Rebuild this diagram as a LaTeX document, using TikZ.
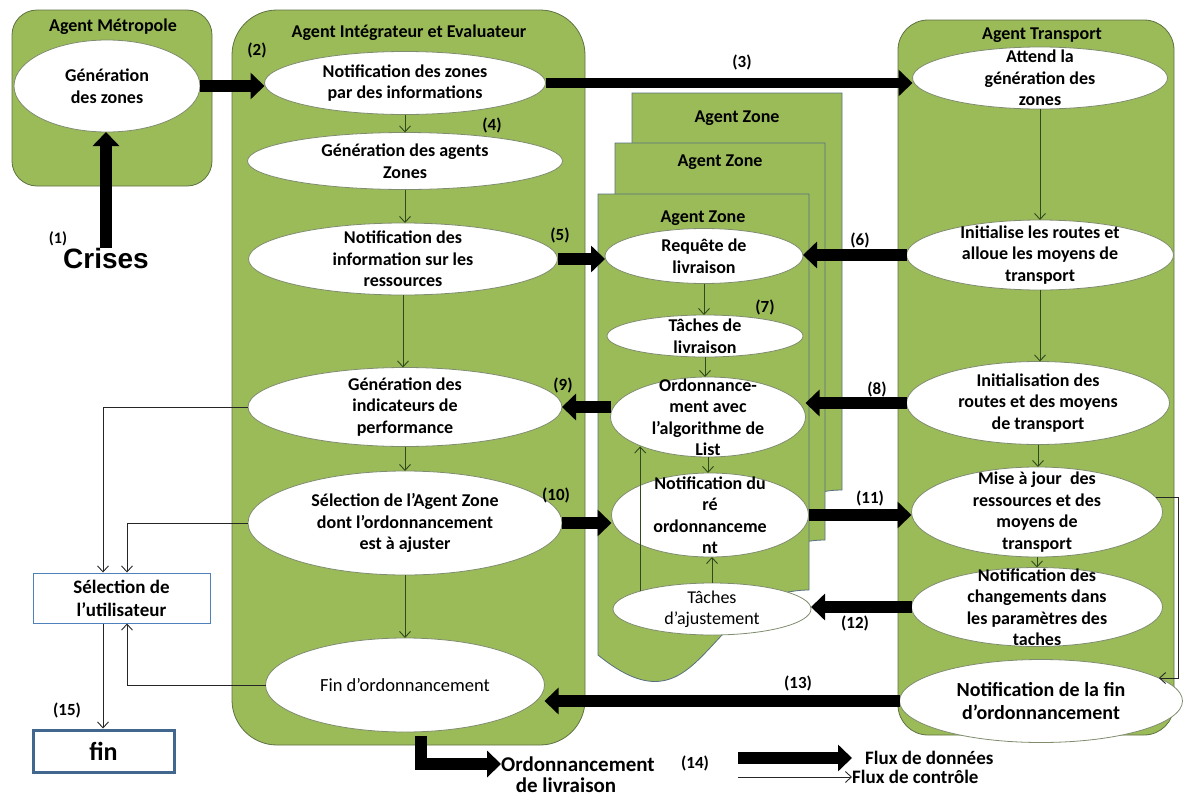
\documentclass[tikz,border=0pt]{standalone}
\usepackage{fontspec}
\setmainfont{Carlito}
\newfontfamily\arialfont{Liberation Sans}
\usetikzlibrary{arrows.meta,calc,shapes.geometric}
\definecolor{agreen}{HTML}{9BBB59}
\definecolor{boxline}{HTML}{5E7142}
\definecolor{zoneline}{HTML}{57707F}
\definecolor{ellline}{HTML}{7F8C6E}
\definecolor{darrow}{HTML}{2F4A1C}
\definecolor{ubline}{HTML}{4F81BD}
\definecolor{finline}{HTML}{41678F}
\tikzset{
 agentbox/.style={draw=boxline, fill=agreen, line width=0.8pt},
 zonebox/.style={draw=zoneline, fill=agreen, line width=0.8pt},
 ell/.style={ellipse, draw=ellline, fill=white, line width=0.8pt, inner sep=0pt, outer sep=0pt},
 etext/.style={align=center, inner sep=0pt, font=\bfseries\fontsize{18}{21.5}\selectfont},
 ttl/.style={inner sep=0pt, font=\bfseries\fontsize{18}{21}\selectfont},
 lbl/.style={inner sep=0pt, font=\bfseries\fontsize{17}{20}\selectfont},
 dataflow/.style={line width=12pt, draw=black, line join=miter, -{Triangle[length=14pt,width=26pt]}},
 ctrlflow/.style={line width=0.9pt, draw=black!85, -{Straight Barb[length=6pt,width=11pt]}},
 inflow/.style={line width=0.9pt, draw=darrow, -{Straight Barb[length=6pt,width=11pt]}},
}
\newcommand{\ellipsenode}[6]{%
 \node[ell, minimum width=#3pt, minimum height=#4pt] (#1) at (#2) {};
 \node[etext,#5] (#1-t) at (#1) {#6};}
\newcommand{\zonedoc}[6]{%
 \draw[zonebox] (#1,#2) -- (#3,#2) -- (#3,#4) .. controls ({(#1+#3)/2},#4) and ({(#1+#3)/2},#6) .. (#1,#5) -- cycle;}
\begin{document}
\begin{tikzpicture}[x=1pt,y=-1pt]
\useasboundingbox (0,0) rectangle (1184,798);
% agent boxes
\draw[agentbox, rounded corners=25pt] (12,10) rectangle (212,186);
\draw[agentbox, rounded corners=45pt] (232,10) rectangle (585,745);
\draw[agentbox, rounded corners=30pt] (898,20) rectangle (1174,735);
% agent zone stack
\zonedoc{632}{93}{842}{490}{555}{641}
\zonedoc{615}{143}{825}{540}{605}{691}
\zonedoc{598}{194}{809}{590}{655}{741}
% titles
\node[ttl] (t-metro) at (113,27) {Agent Métropole};
\node[ttl] (t-integ) at (409,33) {Agent Intégrateur et Evaluateur};
\node[ttl] (t-trans) at (1042,35) {Agent Transport};
\node[ttl] (t-zone3) at (737,118) {Agent Zone};
\node[ttl] (t-zone2) at (720,162) {Agent Zone};
\node[ttl] (t-zone1) at (703,218) {Agent Zone};
% ellipses
\ellipsenode{gz}{107,86}{186}{92}{}{Génération\\des zones}
\ellipsenode{notif}{405,83}{281}{63}{}{Notification des zones\\par des informations}
\ellipsenode{gen}{405,161}{315}{57}{}{Génération des agents\\Zones}
\ellipsenode{notinfo}{403,259}{309}{72}{}{Notification des\\information sur les\\ressources}
\ellipsenode{ind}{405,407}{314}{79}{}{Génération des\\indicateurs de\\performance}
\ellipsenode{sel}{405,523}{314}{104}{}{Sélection de l’Agent Zone\\dont l’ordonnancement\\est à ajuster}
\ellipsenode{fin}{405,685}{279}{94}{font=\fontsize{18.5}{21}\selectfont}{Fin d’ordonnancement}
\ellipsenode{req}{704,256}{198}{55}{}{Requête de\\livraison}
\ellipsenode{tliv}{705,336}{196}{42}{}{Tâches de\\livraison}
\ellipsenode{ord}{708,417}{195}{80}{}{Ordonnance-\\ment avec\\l’algorithme de\\List}
\ellipsenode{rord}{710,515}{197}{84}{}{Notification du\\ré\\ordonnanceme\\nt}
\ellipsenode{tadj}{712,609}{198}{52}{font=\fontsize{18}{21}\selectfont}{Tâches\\d’ajustement}
\ellipsenode{att}{1040,78}{255}{62}{}{Attend la\\génération des\\zones}
\ellipsenode{init}{1040,255}{267}{70}{}{Initialise les routes et\\alloue les moyens de\\transport}
\ellipsenode{init2}{1038,403}{263}{83}{}{Initialisation des\\routes et des moyens\\de transport}
\ellipsenode{maj}{1037,512}{251}{90}{}{Mise à jour~ des\\ressources et des\\moyens de\\transport}
\ellipsenode{notifchg}{1037,607}{251}{79}{}{Notification des\\changements dans\\les paramètres des\\taches}
\ellipsenode{notiffin}{1041,701}{283}{83}{font=\bfseries\fontsize{20}{23}\selectfont}{Notification de la fin\\d’ordonnancement}
% internal control arrows
\draw[inflow] (notif.south) -- (gen.north);
\draw[inflow] (gen.south) -- (gen.south |- notinfo.north);
\draw[inflow] (notinfo.south) -- (notinfo.south |- ind.north);
\draw[inflow] (ind.south) -- (ind.south |- sel.north);
\draw[inflow] (sel.south) -- (sel.south |- fin.north);
\draw[inflow] (req.south) -- (req.south |- tliv.north);
\draw[inflow] (tliv.south) -- (tliv.south |- ord.north);
\draw[inflow] (ord.south) -- (ord.south |- rord.north);
\draw[inflow] (tadj.north) -- (tadj.north |- rord.south);
\draw[inflow] (tadj.166) -- (tadj.166 |- ord.204);
\draw[inflow] (att.south) -- (att.south |- init.north);
\draw[inflow] (init.south) -- (init.south |- init2.north);
\draw[inflow] (init2.south) -- (init2.south |- maj.north);
\draw[inflow] (maj.south) -- (maj.south |- notifchg.north);
% crises
\node[inner sep=0pt, font=\arialfont\bfseries\fontsize{28}{32}\selectfont] (crises) at (106,258) {Crises};
\node[lbl, font=\bfseries\fontsize{16}{19}\selectfont] (l1) at (58,239) {(1)};
% data flows
\draw[dataflow] (crises.north) -- (crises.north |- gz.south);
\draw[dataflow] (gz.east) -- (gz.east -| notif.west);
\draw[dataflow, line width=10pt] (notif.east) -- (notif.east -| att.west);
\draw[dataflow] (notinfo.east) -- (notinfo.east -| req.west);
\draw[dataflow] (init.west) -- (init.west -| req.east);
\draw[dataflow] (init2.west) -- (init2.west -| ord.east);
\draw[dataflow] (ord.west |- ind.east) -- (ind.east);
\draw[dataflow] (sel.east) -- (sel.east -| rord.west);
\draw[dataflow] (rord.east) -- (rord.east -| maj.west);
\draw[dataflow] (notifchg.west) -- (notifchg.west -| tadj.east);
\draw[dataflow] (notiffin.west) -- (notiffin.west -| fin.east);
% ordonnancement output
\node[inner sep=0pt, font=\bfseries\fontsize{21}{22}\selectfont] (ordl1) at (578,764) {Ordonnancement};
\node[inner sep=0pt, font=\bfseries\fontsize{21}{22}\selectfont] (ordl2) at (566,785) {de livraison};
\coordinate (lstart) at (421,736);
\draw[dataflow] (lstart) |- (ordl1.west);
% user selection
\node[draw=ubline, line width=1pt, fill=white, minimum width=177pt, minimum height=50pt, inner sep=0pt, align=center, font=\bfseries\fontsize{19}{23}\selectfont] (ubox) at (121.5,598) {Sélection de\\l’utilisateur};
\node[draw=finline, line width=3pt, fill=white, minimum width=141pt, minimum height=42pt, inner sep=0pt, font=\bfseries\fontsize{26}{30}\selectfont] (finbox) at (103.5,751) {fin};
\coordinate (railA) at (103,0);
\coordinate (railB) at (127,0);
\draw[ctrlflow] (ind.west) -| (railA |- ubox.north);
\draw[ctrlflow] (sel.west) -| (railB |- ubox.north);
\draw[ctrlflow] (fin.west) -| (railB |- ubox.south);
\draw[ctrlflow] (railA |- ubox.south) -- (railA |- finbox.north);
\coordinate (rail) at (1178,0);
\draw[ctrlflow] (maj.7) -- (maj.7 -| rail) -- (rail |- notiffin.11) -- (notiffin.11);
% numbers
\node[lbl] (l2) at (257,50) {(2)};
\node[lbl] (l3) at (742,62) {(3)};
\node[lbl] (l4) at (492,125) {(4)};
\node[lbl] (l5) at (560,235) {(5)};
\node[lbl] (l6) at (860,240) {(6)};
\node[lbl] (l7) at (765,307) {(7)};
\node[lbl] (l8) at (877,389) {(8)};
\node[lbl] (l9) at (563,385) {(9)};
\node[lbl] (l10) at (556,495) {(10)};
\node[lbl] (l11) at (870,498) {(11)};
\node[lbl] (l12) at (855,623) {(12)};
\node[lbl] (l13) at (798,683) {(13)};
\node[lbl] (l14) at (695,763) {(14)};
\node[lbl] (l15) at (67,710) {(15)};
% legend
\node[inner sep=0pt, anchor=west, font=\bfseries\fontsize{19}{21}\selectfont] (fluxd) at (865,758) {Flux de données};
\node[inner sep=0pt, anchor=west, font=\bfseries\fontsize{19}{21}\selectfont] (fluxc) at (852,777) {Flux de contrôle};
\coordinate (lg-a) at (738,758);
\coordinate (lg-b) at (738,777);
\draw[dataflow, shorten >=13pt] (lg-a) -- (fluxd.west);
\draw[ctrlflow] (lg-b) -- (fluxc.west);
\end{tikzpicture}
\end{document}
